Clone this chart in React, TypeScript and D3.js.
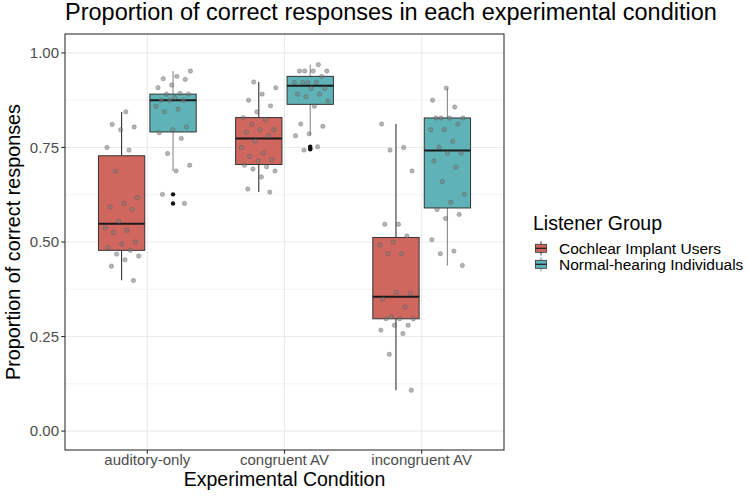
import React from 'react';
import * as d3 from 'd3';

// categories and groups
const conditions = ['auditory-only', 'congruent AV', 'incongruent AV'];
const groups = ['Cochlear Implant Users', 'Normal-hearing Individuals'];
const groupColors = ['#d0675f', '#5fb3b6'];
const whiskerColors = ['#333333', '#8a8a8a'];

// box statistics, one entry per condition, [CI, NH]
const q1 = [[0.478, 0.791], [0.705, 0.864], [0.297, 0.590]];
const medians = [[0.548, 0.875], [0.774, 0.913], [0.355, 0.742]];
const q3 = [[0.728, 0.891], [0.829, 0.938], [0.512, 0.828]];
const whiskerLow = [[0.399, 0.688], [0.632, 0.782], [0.108, 0.438]];
const whiskerHigh = [[0.844, 0.952], [0.923, 0.969], [0.812, 0.906]];
const outliers = [[[], [0.626, 0.602]], [[], [0.752, 0.748, 0.745]], [[], []]];

// individual participant scores
const ciAuditory = [0.844, 0.811, 0.804, 0.797, 0.750, 0.743, 0.687, 0.618, 0.602, 0.593, 0.586, 0.555,
  0.537, 0.531, 0.525, 0.500, 0.495, 0.485, 0.478, 0.468, 0.463, 0.453, 0.436, 0.398];
const nhAuditory = [0.952, 0.938, 0.932, 0.930, 0.915, 0.908, 0.893, 0.891, 0.891, 0.882, 0.875, 0.875,
  0.875, 0.859, 0.851, 0.844, 0.804, 0.797, 0.789, 0.774, 0.734, 0.703, 0.688, 0.626, 0.602];
const ciCongruent = [0.923, 0.908, 0.891, 0.875, 0.860, 0.844, 0.829, 0.824, 0.811, 0.797, 0.797, 0.790,
  0.781, 0.767, 0.750, 0.735, 0.726, 0.718, 0.714, 0.703, 0.699, 0.693, 0.688, 0.672, 0.640, 0.632];
const nhCongruent = [0.969, 0.952, 0.952, 0.952, 0.952, 0.938, 0.922, 0.922, 0.922, 0.922, 0.906, 0.906,
  0.891, 0.891, 0.884, 0.873, 0.859, 0.812, 0.806, 0.786, 0.781, 0.752, 0.743];
const ciIncongruent = [0.812, 0.750, 0.743, 0.688, 0.547, 0.547, 0.516, 0.500, 0.492, 0.469, 0.469, 0.364,
  0.367, 0.349, 0.328, 0.302, 0.297, 0.297, 0.297, 0.280, 0.280, 0.267, 0.258, 0.203, 0.108];
const nhIncongruent = [0.907, 0.875, 0.857, 0.828, 0.828, 0.828, 0.828, 0.812, 0.797, 0.797, 0.766, 0.751,
  0.735, 0.735, 0.714, 0.698, 0.660, 0.626, 0.605, 0.586, 0.573, 0.562, 0.506, 0.476, 0.469, 0.438];
const points = [[ciAuditory, nhAuditory], [ciCongruent, nhCongruent], [ciIncongruent, nhIncongruent]];

const yTicks = [0, 0.25, 0.5, 0.75, 1];
const yMinor = [0.125, 0.375, 0.625, 0.875];

const W = 747;
const H = 500;
const panel = { left: 65, right: 504, top: 34, bottom: 450 };
const font = "'Liberation Sans', Arial, sans-serif";

const App = () => {
  const x = d3.scalePoint().domain(conditions).range([panel.left, panel.right]).padding(0.6);
  const y = d3.scaleLinear().domain([-0.05, 1.05]).range([panel.bottom, panel.top]);
  const step = x.step();
  const dodge = step * 0.1875;
  const boxW = step * 0.3375;

  // spread the points sideways in a fixed pattern
  const jitter = (i, k) => ((((i + 1) * 0.6180339 + k * 0.37) % 1) - 0.5) * 2 * step * 0.13;

  return (
    <svg width={W} height={H} style={{ position: 'absolute', left: 0, top: 0, fontFamily: font }}>
      <rect width={W} height={H} fill="white" />
      <text x={panel.left} y={20} fontSize={23.5} fill="#000">
        Proportion of correct responses in each experimental condition
      </text>

      {/* grid */}
      {yMinor.map(t => (
        <line key={'mn' + t} x1={panel.left} x2={panel.right} y1={y(t)} y2={y(t)} stroke="#ebebeb" strokeWidth={0.6} />
      ))}
      {yTicks.map(t => (
        <line key={'mj' + t} x1={panel.left} x2={panel.right} y1={y(t)} y2={y(t)} stroke="#ebebeb" strokeWidth={1.1} />
      ))}
      {conditions.map(c => (
        <line key={'vx' + c} x1={x(c)} x2={x(c)} y1={panel.top} y2={panel.bottom} stroke="#ebebeb" strokeWidth={1.1} />
      ))}

      {/* boxes */}
      {conditions.map((c, ci) =>
        groups.map((g, gi) => {
          const cx = x(c) + (gi === 0 ? -dodge : dodge);
          return (
            <g key={c + g}>
              <line x1={cx} x2={cx} y1={y(whiskerHigh[ci][gi])} y2={y(q3[ci][gi])} stroke={whiskerColors[gi]} strokeWidth={1.1} />
              <line x1={cx} x2={cx} y1={y(q1[ci][gi])} y2={y(whiskerLow[ci][gi])} stroke={whiskerColors[gi]} strokeWidth={1.1} />
              <rect x={cx - boxW / 2} y={y(q3[ci][gi])} width={boxW} height={y(q1[ci][gi]) - y(q3[ci][gi])}
                fill={groupColors[gi]} stroke="#333" strokeWidth={1} />
              <line x1={cx - boxW / 2} x2={cx + boxW / 2} y1={y(medians[ci][gi])} y2={y(medians[ci][gi])} stroke="#1a1a1a" strokeWidth={2} />
              {outliers[ci][gi].map((v, i) => (
                <circle key={i} cx={cx} cy={y(v)} r={2.2} fill="#111" />
              ))}
            </g>
          );
        })
      )}

      {/* jittered points */}
      {conditions.map((c, ci) =>
        groups.map((g, gi) => {
          const cx = x(c) + (gi === 0 ? -dodge : dodge);
          return points[ci][gi].map((v, i) => (
            <circle key={c + g + i} cx={cx + jitter(i, ci * 2 + gi)} cy={y(v)} r={2.2}
              fill="#7a7a7a" fillOpacity={0.55} stroke="#444" strokeOpacity={0.45} strokeWidth={0.6} />
          ));
        })
      )}

      <rect x={panel.left} y={panel.top} width={panel.right - panel.left} height={panel.bottom - panel.top}
        fill="none" stroke="#333" strokeWidth={1.1} />

      {/* y axis */}
      {yTicks.map(t => (
        <g key={'yt' + t}>
          <line x1={panel.left - 3.7} x2={panel.left} y1={y(t)} y2={y(t)} stroke="#333" strokeWidth={1.1} />
          <text x={panel.left - 6} y={y(t)} dy="0.35em" textAnchor="end" fontSize={15} fill="#4d4d4d">
            {d3.format('.2f')(t)}
          </text>
        </g>
      ))}
      <text transform={`translate(20,${(panel.top + panel.bottom) / 2}) rotate(-90)`} textAnchor="middle" fontSize={19.8}>
        Proportion of correct responses
      </text>

      {/* x axis */}
      {conditions.map(c => (
        <g key={'xt' + c}>
          <line x1={x(c)} x2={x(c)} y1={panel.bottom} y2={panel.bottom + 3.7} stroke="#333" strokeWidth={1.1} />
          <text x={x(c)} y={panel.bottom + 15} textAnchor="middle" fontSize={15} fill="#4d4d4d">{c}</text>
        </g>
      ))}
      <text x={(panel.left + panel.right) / 2} y={486} textAnchor="middle" fontSize={19.5}>
        Experimental Condition
      </text>

      {/* legend */}
      <text x={533} y={230} fontSize={19.5}>Listener Group</text>
      {groups.map((g, gi) => {
        const ky = 248.3 + gi * 16;
        return (
          <g key={'lg' + g}>
            <line x1={541} x2={541} y1={ky - 7} y2={ky + 7} stroke={whiskerColors[gi]} strokeWidth={1} />
            <rect x={535.5} y={ky - 4} width={11} height={8} fill={groupColors[gi]} stroke="#333" strokeWidth={0.8} />
            <line x1={535.5} x2={546.5} y1={ky} y2={ky} stroke="#1a1a1a" strokeWidth={1.2} />
            <text x={559} y={ky} dy="0.36em" fontSize={15.5}>{g}</text>
          </g>
        );
      })}
    </svg>
  );
};

export default App;
